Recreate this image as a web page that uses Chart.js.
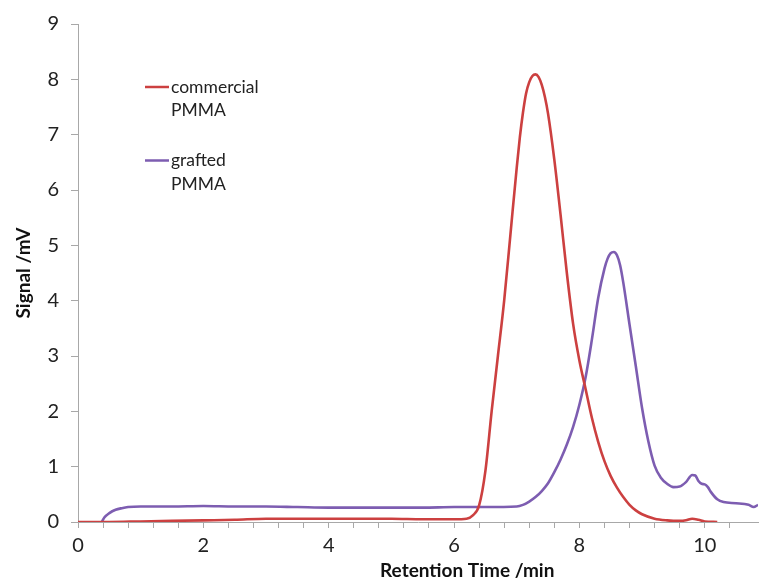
<!DOCTYPE html>
<html>
<head>
<meta charset="utf-8">
<script src="https://cdn.jsdelivr.net/npm/chart.js@4.4.1/dist/chart.umd.min.js"></script>
<style>
  html, body { margin: 0; padding: 0; background: #fff; }
  #wrap { width: 760px; height: 582px; }
</style>
</head>
<body>
<div id="wrap"><canvas id="gpcChart" width="760" height="582"></canvas></div>
<script>
// retention time (min) / signal (mV)
var commercialX = [0, 0.5, 1, 1.5, 2, 2.5, 3, 3.5, 4, 4.5, 5, 5.5, 6, 6.2, 6.3, 6.4, 6.5, 6.6, 6.7, 6.8, 6.9, 7.0, 7.05, 7.1, 7.15, 7.2, 7.25, 7.3,
  7.35, 7.4, 7.45, 7.5, 7.6, 7.7, 7.8, 7.9, 8.0, 8.1, 8.2, 8.3, 8.4, 8.5, 8.6, 8.7, 8.8, 8.9, 9.0, 9.2, 9.4, 9.6, 9.7, 9.8, 9.9, 10.0, 10.2];
var commercialY = [0, 0, 0.01, 0.02, 0.03, 0.04, 0.06, 0.06, 0.06, 0.06, 0.06, 0.05, 0.05, 0.06, 0.12, 0.3, 0.92, 2.0, 3.0, 4.0, 5.2, 6.4, 6.95, 7.4, 7.75, 7.95, 8.06, 8.09,
  8.04, 7.9, 7.68, 7.38, 6.55, 5.55, 4.5, 3.58, 2.92, 2.4, 1.88, 1.45, 1.1, 0.83, 0.62, 0.45, 0.31, 0.21, 0.14, 0.06, 0.03, 0.02, 0.03, 0.06, 0.04, 0.01, 0];

var graftedX = [0.38, 0.42, 0.5, 0.6, 0.7, 0.8, 1, 1.5, 2, 2.5, 3, 3.5, 4, 4.5, 5, 5.5, 6, 6.5, 7, 7.1, 7.2, 7.3, 7.4, 7.5, 7.6, 7.7, 7.8, 7.9,
  8.0, 8.1, 8.2, 8.3, 8.4, 8.45, 8.5, 8.55, 8.6, 8.65, 8.7, 8.8, 8.9, 9.0, 9.1, 9.2, 9.3, 9.4, 9.5, 9.6, 9.7, 9.8, 9.85, 9.9, 9.95, 10.0, 10.05,
  10.1, 10.2, 10.3, 10.5, 10.7, 10.78, 10.85];
var graftedY = [0, 0.08, 0.16, 0.22, 0.25, 0.27, 0.28, 0.28, 0.29, 0.28, 0.28, 0.27, 0.26, 0.26, 0.26, 0.26, 0.27, 0.27, 0.28, 0.31, 0.37, 0.45, 0.56, 0.7, 0.9, 1.13, 1.4, 1.72,
  2.12, 2.62, 3.3, 4.05, 4.58, 4.76, 4.86, 4.88, 4.82, 4.64, 4.33, 3.57, 2.82, 2.06, 1.46, 1.02, 0.8, 0.69, 0.63, 0.64, 0.72, 0.85, 0.84, 0.74, 0.69, 0.68, 0.63,
  0.54, 0.41, 0.36, 0.34, 0.31, 0.27, 0.31];

var seriesNames = [['commercial', 'PMMA'], ['grafted', 'PMMA']];
var xTickLabels = [0, 2, 4, 6, 8, 10];
var yTickLabels = [0, 1, 2, 3, 4, 5, 6, 7, 8, 9];
var xTitle = 'Retention Time /min';
var yTitle = 'Signal /mV';

function toPoints(xs, ys) {
  return xs.map(function (x, i) { return { x: x, y: ys[i] }; });
}

var FONT = 'Lato, "Open Sans", sans-serif';
var axisGrey = '#a8a8a8';

// legend and axis titles, drawn by hand so the two-line labels fit
var extras = {
  id: 'extras',
  afterDraw: function (chart) {
    var ctx = chart.ctx, area = chart.chartArea;
    ctx.save();
    ctx.textBaseline = 'middle';
    ctx.textAlign = 'left';
    ctx.font = '17.5px ' + FONT;
    chart.data.datasets.forEach(function (ds, i) {
      var y0 = area.top + 63 + i * 73.5;
      ctx.strokeStyle = ds.borderColor;
      ctx.lineWidth = 2.5;
      ctx.beginPath();
      ctx.moveTo(area.left + 67, y0);
      ctx.lineTo(area.left + 91, y0);
      ctx.stroke();
      ctx.fillStyle = '#222';
      ds.label.forEach(function (line, j) {
        ctx.fillText(line, area.left + 93, y0 + j * 23.5);
      });
    });

    ctx.font = 'bold 19px ' + FONT;
    ctx.fillStyle = '#111';
    ctx.textAlign = 'center';
    ctx.fillText(xTitle, chart.scales.x.getPixelForValue(6.21), 571);
    ctx.translate(24, (area.top + area.bottom) / 2);
    ctx.rotate(-Math.PI / 2);
    ctx.fillText(yTitle, 0, 0);
    ctx.restore();
  }
};

var ctx = document.getElementById('gpcChart');
var gpcChart = new Chart(ctx, {
  type: 'line',
  data: {
    datasets: [{
      label: seriesNames[0],
      data: toPoints(commercialX, commercialY),
      borderColor: '#cc4040',
      borderWidth: 2.6,
      pointRadius: 0,
      cubicInterpolationMode: 'monotone'
    }, {
      label: seriesNames[1],
      data: toPoints(graftedX, graftedY),
      borderColor: '#7d5db1',
      borderWidth: 2.6,
      pointRadius: 0,
      cubicInterpolationMode: 'monotone'
    }]
  },
  options: {
    responsive: false,
    animation: false,
    layout: { padding: { top: 20, right: 2, left: 0, bottom: 0 } },
    plugins: {
      legend: { display: false },
      tooltip: { enabled: false }
    },
    scales: {
      x: {
        type: 'linear',
        min: 0,
        max: 10.85,
        afterFit: function (scale) { scale.height = 60; },
        afterBuildTicks: function (scale) {
          // drop the extra tick chart.js puts at max
          scale.ticks = scale.ticks.filter(function (t) {
            return Math.abs(t.value / 0.4 - Math.round(t.value / 0.4)) < 1e-6;
          });
        },
        grid: { drawOnChartArea: false, drawTicks: true, tickLength: 6, color: axisGrey },
        border: { color: axisGrey },
        ticks: {
          stepSize: 0.4,
          autoSkip: false,
          maxRotation: 0,
          padding: 6,
          color: '#222',
          font: { family: FONT, size: 20 },
          callback: function (v) { return xTickLabels.indexOf(Math.round(v * 10) / 10) >= 0 ? v : ''; }
        }
      },
      y: {
        min: 0,
        max: 9,
        afterFit: function (scale) { scale.width = 78; },
        grid: { drawOnChartArea: false, drawTicks: true, tickLength: 7, color: axisGrey },
        border: { color: axisGrey },
        ticks: {
          stepSize: 1,
          padding: 12,
          color: '#222',
          font: { family: FONT, size: 20 },
          callback: function (v) { return yTickLabels.indexOf(v) >= 0 ? v : ''; }
        }
      }
    }
  },
  plugins: [extras]
});
</script>
</body>
</html>
